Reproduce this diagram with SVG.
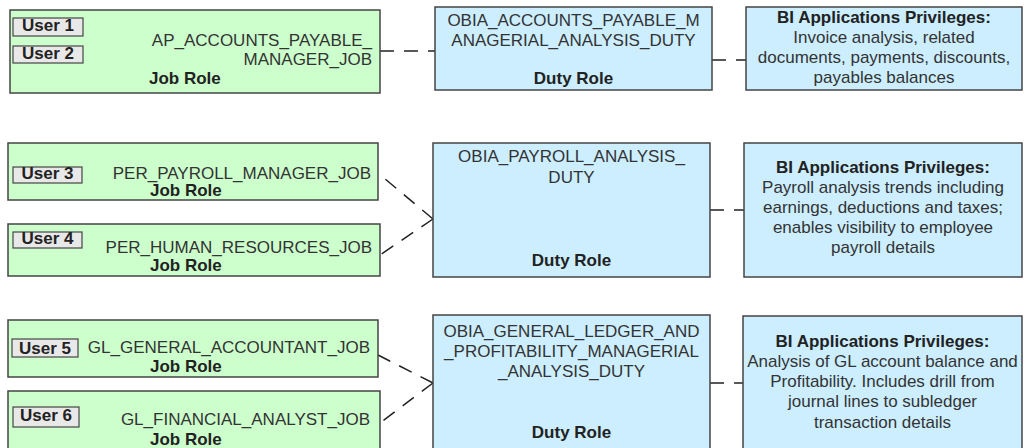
<svg xmlns="http://www.w3.org/2000/svg" width="1027" height="448" viewBox="0 0 1027 448">
<style>
.job{fill:#ccffcc;stroke:#444;stroke-width:1.5}
.duty{fill:#cceeff;stroke:#444;stroke-width:1.5}
.user{fill:#e8e8e8;stroke:#444;stroke-width:1.2}
text{font-family:"Liberation Sans",Arial,sans-serif;font-size:17px;fill:#333}
.b{font-weight:bold;fill:#222}
.r{text-anchor:end}
.m{text-anchor:middle}
.c{fill:none;stroke:#222;stroke-width:1.5;stroke-dasharray:14 10}
</style>
<rect width="1027" height="448" fill="#ffffff"/>
<g id="connectors">
<path class="c" d="M380,51 H435"/>
<path class="c" d="M712,60 H746"/>
<path class="c" d="M433,219 L378,173"/>
<path class="c" d="M433,219 L380,255"/>
<path class="c" d="M710,210 H744"/>
<path class="c" d="M433,383 L378,355"/>
<path class="c" d="M433,383 L380,423"/>
<path class="c" d="M710,383 H743"/>
</g>
<g id="job1">
<rect class="job" x="10" y="10" width="370" height="83"/>
<rect class="user" x="13" y="18" width="70" height="18"/>
<text class="b m" x="48" y="31">User 1</text>
<rect class="user" x="13" y="46" width="70" height="17"/>
<text class="b m" x="48" y="59">User 2</text>
<text class="r" x="372" y="46">AP_ACCOUNTS_PAYABLE_</text>
<text class="r" x="372" y="65">MANAGER_JOB</text>
<text class="b" x="149" y="84">Job Role</text>
</g>
<g id="duty1">
<rect class="duty" x="435" y="7" width="277" height="83"/>
<text class="m" x="573.5" y="26">OBIA_ACCOUNTS_PAYABLE_M</text>
<text class="m" x="573.5" y="46">ANAGERIAL_ANALYSIS_DUTY</text>
<text class="b m" x="573.5" y="84">Duty Role</text>
</g>
<g id="priv1">
<rect class="duty" x="746" y="7" width="276" height="83"/>
<text class="b m" x="884" y="22.5">BI Applications Privileges:</text>
<text class="m" x="884" y="42.5">Invoice analysis, related</text>
<text class="m" x="884" y="63">documents, payments, discounts,</text>
<text class="m" x="884" y="83">payables balances</text>
</g>
<g id="job3">
<rect class="job" x="8" y="143" width="370" height="57"/>
<rect class="user" x="13" y="167" width="69" height="16"/>
<text class="b m" x="47.5" y="179">User 3</text>
<text class="r" x="371" y="179">PER_PAYROLL_MANAGER_JOB</text>
<text class="b" x="150" y="196">Job Role</text>
</g>
<g id="job4">
<rect class="job" x="8" y="224" width="372" height="52"/>
<rect class="user" x="13" y="232" width="69" height="16"/>
<text class="b m" x="47.5" y="244">User 4</text>
<text class="r" x="372" y="253">PER_HUMAN_RESOURCES_JOB</text>
<text class="b" x="150" y="271">Job Role</text>
</g>
<g id="duty2">
<rect class="duty" x="433" y="143" width="277" height="134"/>
<text class="m" x="571.5" y="162">OBIA_PAYROLL_ANALYSIS_</text>
<text class="m" x="571.5" y="183">DUTY</text>
<text class="b m" x="571.5" y="266">Duty Role</text>
</g>
<g id="priv2">
<rect class="duty" x="744" y="143" width="278" height="134"/>
<text class="b m" x="883" y="173">BI Applications Privileges:</text>
<text class="m" x="883" y="193">Payroll analysis trends including</text>
<text class="m" x="883" y="213">earnings, deductions and taxes;</text>
<text class="m" x="883" y="233">enables visibility to employee</text>
<text class="m" x="883" y="253">payroll details</text>
</g>
<g id="job5">
<rect class="job" x="8" y="320" width="370" height="57"/>
<rect class="user" x="12" y="339" width="66" height="18"/>
<text class="b m" x="45" y="354">User 5</text>
<text class="r" x="370" y="353">GL_GENERAL_ACCOUNTANT_JOB</text>
<text class="b" x="150" y="372">Job Role</text>
</g>
<g id="job6">
<rect class="job" x="8" y="391" width="372" height="70"/>
<rect class="user" x="13" y="407" width="66" height="20"/>
<text class="b m" x="46" y="421">User 6</text>
<text class="r" x="370" y="425">GL_FINANCIAL_ANALYST_JOB</text>
<text class="b" x="150" y="445">Job Role</text>
</g>
<g id="duty3">
<rect class="duty" x="433" y="315" width="277" height="150"/>
<text class="m" x="571.5" y="337">OBIA_GENERAL_LEDGER_AND</text>
<text class="m" x="571.5" y="357">_PROFITABILITY_MANAGERIAL</text>
<text class="m" x="571.5" y="377">_ANALYSIS_DUTY</text>
<text class="b m" x="571.5" y="438">Duty Role</text>
</g>
<g id="priv3">
<rect class="duty" x="743" y="316" width="279" height="150"/>
<text class="b m" x="882.5" y="347">BI Applications Privileges:</text>
<text class="m" x="882.5" y="367">Analysis of GL account balance and</text>
<text class="m" x="882.5" y="387">Profitability. Includes drill from</text>
<text class="m" x="882.5" y="407">journal lines to subledger</text>
<text class="m" x="882.5" y="428">transaction details</text>
</g>
</svg>
